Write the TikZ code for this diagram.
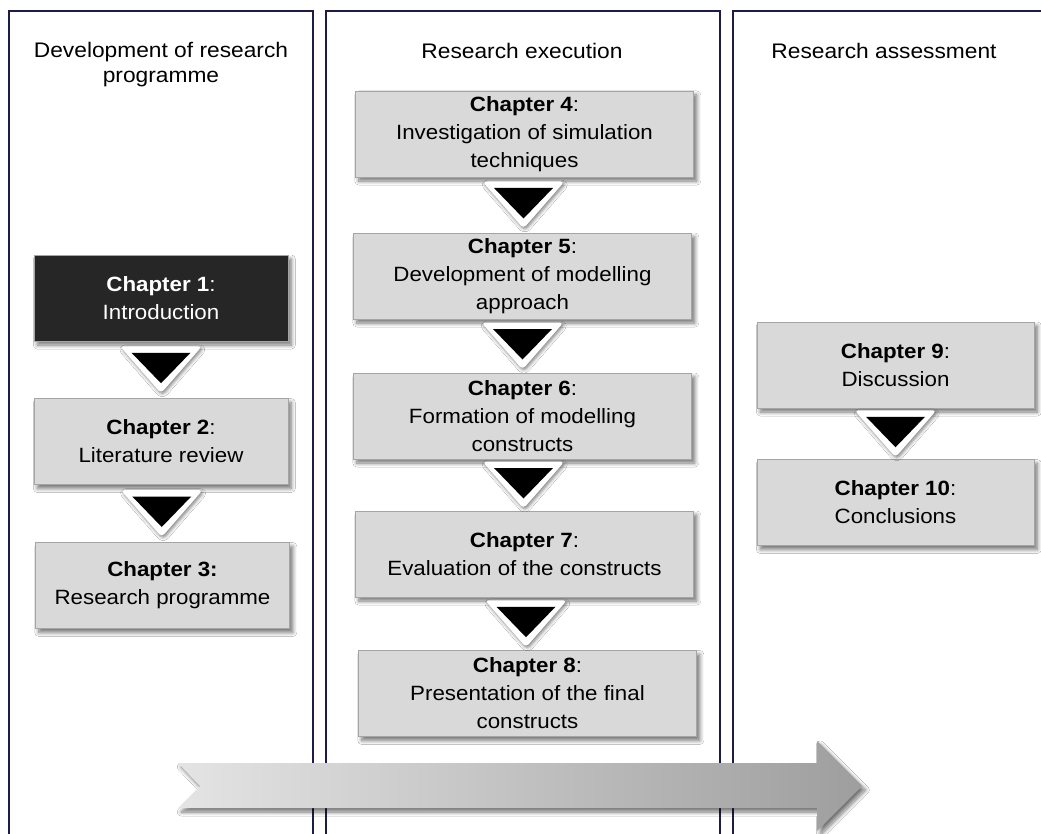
\documentclass[tikz,border=0pt]{standalone}
\usepackage{fontspec}
\setmainfont{Liberation Sans}[FakeStretch=1.08]
\usetikzlibrary{calc,shadows.blur}

\definecolor{panelline}{RGB}{28,28,70}
\definecolor{boxfill}{RGB}{217,217,217}
\definecolor{boxline}{RGB}{165,165,165}
\definecolor{darkfill}{RGB}{38,38,38}
\definecolor{arrowlight}{RGB}{228,228,228}
\definecolor{arrowdark}{RGB}{158,158,158}

\tikzset{
  boxshadow/.style={blur shadow={shadow xshift=2.5pt, shadow yshift=-3pt,
      shadow blur radius=3pt, shadow blur steps=8, shadow opacity=55}},
  chbox/.style={draw=boxline, line width=0.6pt, fill=boxfill, boxshadow,
      inner sep=0pt, align=center, font=\fontsize{15.5}{21}\selectfont,
      minimum height=86*0.75pt},
  leftcol/.style={chbox, minimum width=254*0.75pt},
  midcol/.style={chbox, minimum width=338*0.75pt},
  rightcol/.style={chbox, minimum width=277*0.75pt},
  darkbox/.style={fill=darkfill, text=white},
  panel/.style={draw=panelline, line width=1.5pt},
  heading/.style={anchor=north, inner sep=0pt, align=center,
      font=\fontsize{15.8}{18.75}\selectfont},
  flowtri/.pic={
    \fill[white, rounded corners=3pt,
          blur shadow={shadow xshift=1pt, shadow yshift=-1.5pt,
                       shadow blur radius=2.5pt, shadow opacity=50}]
      (-41,-23.5) -- (41,-23.5) -- (0,23.5) -- cycle;
    \fill[black] (-29.5,-17) -- (29.5,-17) -- (0,13.5) -- cycle;
  }
}

\begin{document}
\begin{tikzpicture}[x=0.75pt, y=-0.75pt]
  \useasboundingbox (0,0) rectangle (1041,834);
  \fill[white] (0,0) rectangle (1041,834);

  % three phase panels (open at the bottom)
  \draw[panel] (9,850) -- (9,11) -- (313,11) -- (313,850);
  \draw[panel] (326,850) -- (326,11) -- (720,11) -- (720,850);
  \draw[panel] (733,850) -- (733,11) -- (1060,11);

  % panel headings
  \node[heading] (h1) at (161,42) {Development of research\\programme};
  \node[heading] (h2) at (522,43) {Research execution};
  \node[heading] (h3) at (884,43) {Research assessment};

  % chapters of the first phase
  \node[leftcol, darkbox] (c1) at (161,298) {\textbf{Chapter 1}:\\Introduction};
  \node[leftcol] (c2) at (161,441.5) {\textbf{Chapter 2}:\\Literature review};
  \node[leftcol] (c3) at (162.5,585.5) {\textbf{Chapter 3:}\\Research programme};

  % chapters of the second phase
  \node[midcol] (c4) at (524.5,134) {\textbf{Chapter 4}:\\Investigation of simulation\\techniques};
  \node[midcol] (c5) at (522.5,276) {\textbf{Chapter 5}:\\Development of modelling\\approach};
  \node[midcol] (c6) at (522.5,416) {\textbf{Chapter 6}:\\Formation of modelling\\constructs};
  \node[midcol] (c7) at (524.5,554) {\textbf{Chapter 7}:\\Evaluation of the constructs};
  \node[midcol] (c8) at (527.5,693.5) {\textbf{Chapter 8}:\\Presentation of the final\\constructs};

  % chapters of the third phase
  \node[rightcol] (c9) at (895.5,365) {\textbf{Chapter 9}:\\Discussion};
  \node[rightcol] (c10) at (895.5,502.5) {\textbf{Chapter 10}:\\Conclusions};

  % flow markers between consecutive chapters
  \pic at ($(c1.south)!0.5!(c2.north)$) {flowtri};
  \pic at ($(c2.south)!0.5!(c3.north)$) {flowtri};
  \pic at ($(c4.south)!0.5!(c5.north)$) {flowtri};
  \pic at ($(c5.south)!0.5!(c6.north)$) {flowtri};
  \pic at ($(c6.south)!0.5!(c7.north)$) {flowtri};
  \pic at ($(c7.south)!0.5!(c8.north)$) {flowtri};
  \pic at ($(c9.south)!0.5!(c10.north)$) {flowtri};

  % overall progress arrow across the phases
  \path[boxshadow, left color=arrowlight, right color=arrowdark]
    (178,763) -- (817,763) -- (817,741) -- (862,786) -- (817,831)
    -- (817,808) -- (178,808) -- (200,786) -- cycle;
\end{tikzpicture}
\end{document}
